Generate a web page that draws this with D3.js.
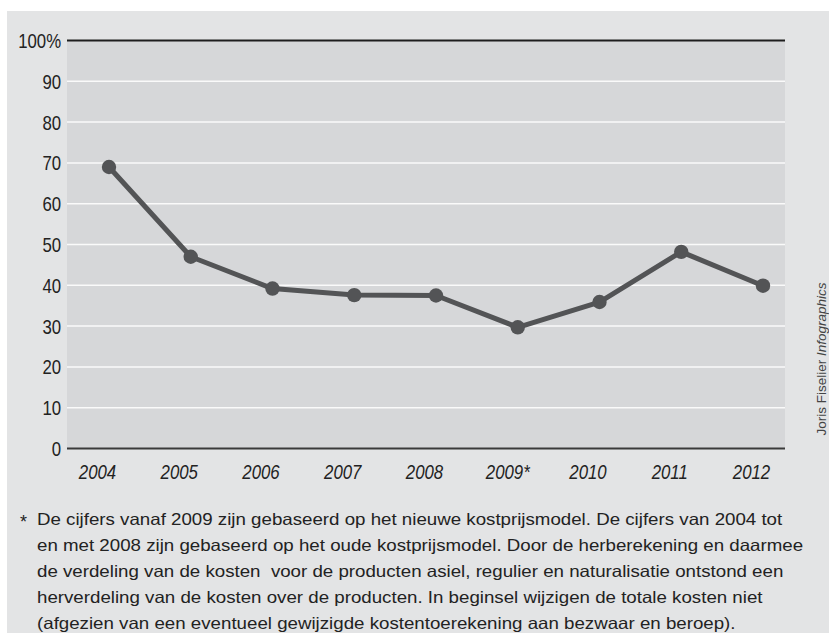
<!DOCTYPE html>
<html>
<head>
<meta charset="utf-8">
<script src="https://cdn.jsdelivr.net/npm/d3@7"></script>
<style>
  html, body { margin: 0; padding: 0; background: #fff; }
  svg { display: block; }
</style>
</head>
<body>
<svg id="chart" width="829" height="639"></svg>
<script>
// ---- data ----
const years = ["2004", "2005", "2006", "2007", "2008", "2009*", "2010", "2011", "2012"];
const values = [69, 47, 39.2, 37.6, 37.5, 29.7, 35.9, 48.2, 39.9];
const yTicks = [0, 10, 20, 30, 40, 50, 60, 70, 80, 90, 100];
const yTickLabels = ["0", "10", "20", "30", "40", "50", "60", "70", "80", "90", "100%"];
const footnoteLines = [
  "De cijfers vanaf 2009 zijn gebaseerd op het nieuwe kostprijsmodel. De cijfers van 2004 tot",
  "en met 2008 zijn gebaseerd op het oude kostprijsmodel. Door de herberekening en daarmee",
  "de verdeling van de kosten\u00a0 voor de producten asiel, regulier en naturalisatie ontstond een",
  "herverdeling van de kosten over de producten. In beginsel wijzigen de totale kosten niet",
  "(afgezien van een eventueel gewijzigde kostentoerekening aan bezwaar en beroep)."
];
const creditName = "Joris Fiselier ";
const creditRole = "Infographics";

// ---- layout ----
const svg = d3.select("#chart");
const face = "'Liberation Sans', Arial, Helvetica, sans-serif";
const plot = { left: 67, right: 785, top: 40.5, bottom: 448.5 };
const lineColor = "#535456";
const squeeze = 0.84; // condensed look

svg.append("rect").attr("x", 7).attr("y", 11).attr("width", 822).attr("height", 622).attr("fill", "#e3e4e5");
svg.append("rect").attr("x", plot.left).attr("y", plot.top)
  .attr("width", plot.right - plot.left).attr("height", plot.bottom - plot.top).attr("fill", "#d6d7d9");

const x = d3.scalePoint().domain(years).range([109, 763]);
const y = d3.scaleLinear().domain([0, 100]).range([plot.bottom, plot.top]);

// gridlines
svg.append("g").selectAll("line").data(yTicks.filter(d => d > 0 && d < 100)).join("line")
  .attr("x1", plot.left).attr("x2", plot.right)
  .attr("y1", d => y(d)).attr("y2", d => y(d))
  .attr("stroke", "#fafafa").attr("stroke-width", 1.5);

// top line
svg.append("line").attr("x1", plot.left).attr("x2", plot.right)
  .attr("y1", y(100)).attr("y2", y(100)).attr("stroke", "#1e1e1e").attr("stroke-width", 2);

// y axis
const yAxis = d3.axisLeft(y).tickValues(yTicks)
  .tickFormat((d, i) => yTickLabels[i]).tickSize(0).tickPadding(7);
const gy = svg.append("g").attr("transform", `translate(${plot.left},0)`).call(yAxis);
gy.select(".domain").remove();
gy.selectAll("text").attr("font-family", face).attr("font-size", 20)
  .attr("fill", "#222").attr("dy", "0.35em")
  .attr("transform", `scale(${squeeze},1)`);

// x axis
const xAxis = d3.axisBottom(x).tickSize(0).tickPadding(0);
const gx = svg.append("g").attr("transform", `translate(0,${plot.bottom})`).call(xAxis);
gx.select(".domain").remove();
gx.selectAll("text").attr("font-family", face).attr("font-size", 20)
  .attr("font-style", "italic").attr("fill", "#222")
  .attr("dy", 0).attr("y", 31)
  .attr("dx", d => (d.endsWith("*") ? -10.5 : -12) / squeeze)
  .attr("text-anchor", "middle")
  .attr("transform", `scale(${squeeze},1)`);

// bottom axis line
svg.append("line").attr("x1", plot.left).attr("x2", plot.right)
  .attr("y1", y(0)).attr("y2", y(0)).attr("stroke", "#3a3a3a").attr("stroke-width", 2);

// series
const line = d3.line().x((d, i) => x(years[i])).y(d => y(d));
svg.append("path").datum(values).attr("d", line)
  .attr("fill", "none").attr("stroke", lineColor).attr("stroke-width", 5)
  .attr("stroke-linejoin", "round");
svg.append("g").selectAll("circle").data(values).join("circle")
  .attr("cx", (d, i) => x(years[i])).attr("cy", d => y(d)).attr("r", 7.2)
  .attr("fill", lineColor);

// credit
const credit = svg.append("text")
  .attr("transform", "translate(826,359) rotate(-90)")
  .attr("text-anchor", "middle")
  .attr("font-family", face)
  .attr("font-size", 13.5).attr("fill", "#444");
credit.append("tspan").text(creditName);
credit.append("tspan").attr("font-style", "italic").text(creditRole);

// footnote
const fn = svg.append("g").attr("font-family", face).attr("fill", "#222");
fn.append("text").attr("x", 20).attr("y", 528).attr("font-size", 18).text("*");
const fnText = fn.append("g");
fnText.selectAll("text").data(footnoteLines).join("text")
  .attr("x", 0).attr("y", (d, i) => 525 + i * 26.1)
  .attr("font-size", 16.5).text(d => d);
// horizontal fit of the face to the reference line width
const w0 = fnText.select("text").node().getComputedTextLength();
const sx = 746 / w0;
fnText.attr("transform", `translate(37,0) scale(${sx},1)`);
</script>
</body>
</html>
